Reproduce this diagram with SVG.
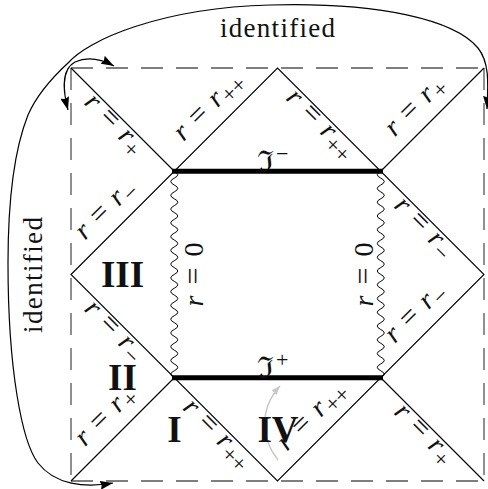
<svg xmlns="http://www.w3.org/2000/svg" width="488" height="489" viewBox="0 0 488 489">
<defs>
<style>
.dash{fill:none;stroke:#555;stroke-width:1.3;stroke-dasharray:22 13}
.thin{fill:none;stroke:#000;stroke-width:1.1}
.thick{fill:none;stroke:#000;stroke-width:5}
.wave{fill:none;stroke:#000;stroke-width:1}
.arc{fill:none;stroke:#000;stroke-width:1.2}
.m{font-family:"Liberation Serif",serif;font-size:28px;fill:#111}
.i{font-style:italic}
.eq{font-size:30px}
.sb{font-size:23px}
.rom{font-family:"Liberation Serif",serif;font-size:37px;font-weight:bold;text-anchor:middle;fill:#111}
.id{font-family:"Liberation Serif",serif;font-size:27px;fill:#111}
</style>
<marker id="ah" viewBox="0 0 13 9" refX="13" refY="4.5" markerWidth="13" markerHeight="9" markerUnits="userSpaceOnUse" orient="auto-start-reverse">
<path d="M0,0 L13,4.5 L0,9 L1.5,4.5 z" fill="#000"/>
</marker>
<marker id="gh" viewBox="0 0 9 7" refX="9" refY="3.5" markerWidth="9" markerHeight="7" markerUnits="userSpaceOnUse" orient="auto">
<path d="M0,0 L9,3.5 L0,7 z" fill="#c8c8c8"/>
</marker>
</defs>

<g id="frame">
<path class="dash" d="M71,68 H484 M484,68 V481 M71,68 V481 M71,481 H484"/>
</g>

<g id="horizons">
<path class="thin" d="M71,68 L174.25,171.25 M484,68 L380.75,171.25 M71,481 L174.25,377.75 M484,481 L380.75,377.75"/>
<path class="thin" d="M71,274.5 L277.5,68 L484,274.5 L277.5,481 Z"/>
</g>

<g id="singularities">
<path class="wave" d="M174.25,171.25 q7,3.44 0,6.88 t0,6.88 t0,6.88 t0,6.88 t0,6.88 t0,6.88 t0,6.88 t0,6.88 t0,6.88 t0,6.88 t0,6.88 t0,6.88 t0,6.88 t0,6.88 t0,6.88 t0,6.88 t0,6.88 t0,6.88 t0,6.88 t0,6.88 t0,6.88 t0,6.88 t0,6.88 t0,6.88 t0,6.88 t0,6.88 t0,6.88 t0,6.88 t0,6.88 t0,6.88"/>
<path class="wave" d="M380.75,171.25 q-7,3.44 0,6.88 t0,6.88 t0,6.88 t0,6.88 t0,6.88 t0,6.88 t0,6.88 t0,6.88 t0,6.88 t0,6.88 t0,6.88 t0,6.88 t0,6.88 t0,6.88 t0,6.88 t0,6.88 t0,6.88 t0,6.88 t0,6.88 t0,6.88 t0,6.88 t0,6.88 t0,6.88 t0,6.88 t0,6.88 t0,6.88 t0,6.88 t0,6.88 t0,6.88 t0,6.88"/>
<path class="thick" d="M172,171.25 H383 M172,377.75 H383"/>
</g>

<g id="connectors">
<path class="arc" marker-start="url(#ah)" marker-end="url(#ah)" d="M113,483 C85,488 55,485 38,463 C22,442 8,370 8,263 C8,200 14,150 28,115 C38,92 55,75 68,63 C88,40 160,8 270,5 C380,2 455,20 478,48 C490,63 488,85 487,109"/>
<path class="arc" marker-start="url(#ah)" marker-end="url(#ah)" d="M68,110 C64,95 60,70 75,62 C88,56 103,60 114,66"/>
<path fill="none" stroke="#c8c8c8" stroke-width="1.5" marker-end="url(#gh)" d="M278,460 C262,440 258,410 280,386"/>
</g>

<g id="labels">
<text class="m" text-anchor="middle" transform="translate(108.9,129.3) rotate(45)"><tspan class="i">r</tspan><tspan class="eq" dx="10">=</tspan><tspan class="i" dx="10">r</tspan><tspan class="sb" dx="1" dy="6">+</tspan></text>
<text class="m" text-anchor="middle" transform="translate(213.9,111.8) rotate(-45)"><tspan class="i">r</tspan><tspan class="eq" dx="10">=</tspan><tspan class="i" dx="10">r</tspan><tspan class="sb" dx="1" dy="6">++</tspan></text>
<text class="m" text-anchor="middle" transform="translate(315.4,129.3) rotate(45)"><tspan class="i">r</tspan><tspan class="eq" dx="10">=</tspan><tspan class="i" dx="10">r</tspan><tspan class="sb" dx="1" dy="6">++</tspan></text>
<text class="m" text-anchor="middle" transform="translate(420.4,111.8) rotate(-45)"><tspan class="i">r</tspan><tspan class="eq" dx="10">=</tspan><tspan class="i" dx="10">r</tspan><tspan class="sb" dx="1" dy="6">+</tspan></text>
<text class="m" text-anchor="middle" transform="translate(110.7,215) rotate(-45)"><tspan class="i">r</tspan><tspan class="eq" dx="10">=</tspan><tspan class="i" dx="10">r</tspan><tspan class="sb" dx="1" dy="6">−</tspan></text>
<text class="m" text-anchor="middle" transform="translate(108.9,335.8) rotate(45)"><tspan class="i">r</tspan><tspan class="eq" dx="10">=</tspan><tspan class="i" dx="10">r</tspan><tspan class="sb" dx="1" dy="6">−</tspan></text>
<text class="m" text-anchor="middle" transform="translate(110.7,421.5) rotate(-45)"><tspan class="i">r</tspan><tspan class="eq" dx="10">=</tspan><tspan class="i" dx="10">r</tspan><tspan class="sb" dx="1" dy="6">+</tspan></text>
<text class="m" text-anchor="middle" transform="translate(212.1,439) rotate(45)"><tspan class="i">r</tspan><tspan class="eq" dx="10">=</tspan><tspan class="i" dx="10">r</tspan><tspan class="sb" dx="1" dy="6">++</tspan></text>
<text class="m" text-anchor="middle" transform="translate(317.2,421.5) rotate(-45)"><tspan class="i">r</tspan><tspan class="eq" dx="10">=</tspan><tspan class="i" dx="10">r</tspan><tspan class="sb" dx="1" dy="6">++</tspan></text>
<text class="m" text-anchor="middle" transform="translate(418.6,439) rotate(45)"><tspan class="i">r</tspan><tspan class="eq" dx="10">=</tspan><tspan class="i" dx="10">r</tspan><tspan class="sb" dx="1" dy="6">+</tspan></text>
<text class="m" text-anchor="middle" transform="translate(420.4,318.3) rotate(-45)"><tspan class="i">r</tspan><tspan class="eq" dx="10">=</tspan><tspan class="i" dx="10">r</tspan><tspan class="sb" dx="1" dy="6">−</tspan></text>
<text class="m" text-anchor="middle" transform="translate(418.6,232.5) rotate(45)"><tspan class="i">r</tspan><tspan class="eq" dx="10">=</tspan><tspan class="i" dx="10">r</tspan><tspan class="sb" dx="1" dy="6">−</tspan></text>
<text class="m" text-anchor="middle" transform="translate(203,274.5) rotate(-90)"><tspan class="i">r</tspan><tspan class="eq" dx="11">=</tspan><tspan dx="11">0</tspan></text>
<text class="m" text-anchor="middle" transform="translate(373,274.5) rotate(-90)"><tspan class="i">r</tspan><tspan class="eq" dx="11">=</tspan><tspan dx="11">0</tspan></text>
<text x="257" y="172" font-family="DejaVu Serif, serif" font-size="30" fill="#111">ℑ<tspan font-family="Liberation Serif, serif" font-size="22" dx="2" dy="-11">−</tspan></text>
<text x="257" y="378" font-family="DejaVu Serif, serif" font-size="30" fill="#111">ℑ<tspan font-family="Liberation Serif, serif" font-size="22" dx="2" dy="-11">+</tspan></text>
<text class="id" x="220" y="36.7" textLength="115" lengthAdjust="spacing">identified</text>
<text class="id" text-anchor="middle" transform="translate(41.7,275) rotate(-90)" textLength="116" lengthAdjust="spacing">identified</text>
</g>

<g id="region-III"><text class="rom" x="122.5" y="287">III</text></g>
<g id="region-II"><text class="rom" x="122.5" y="390">II</text></g>
<g id="region-I"><text class="rom" x="174.5" y="442">I</text></g>
<g id="region-IV"><text class="rom" x="278" y="442">IV</text></g>
</svg>
